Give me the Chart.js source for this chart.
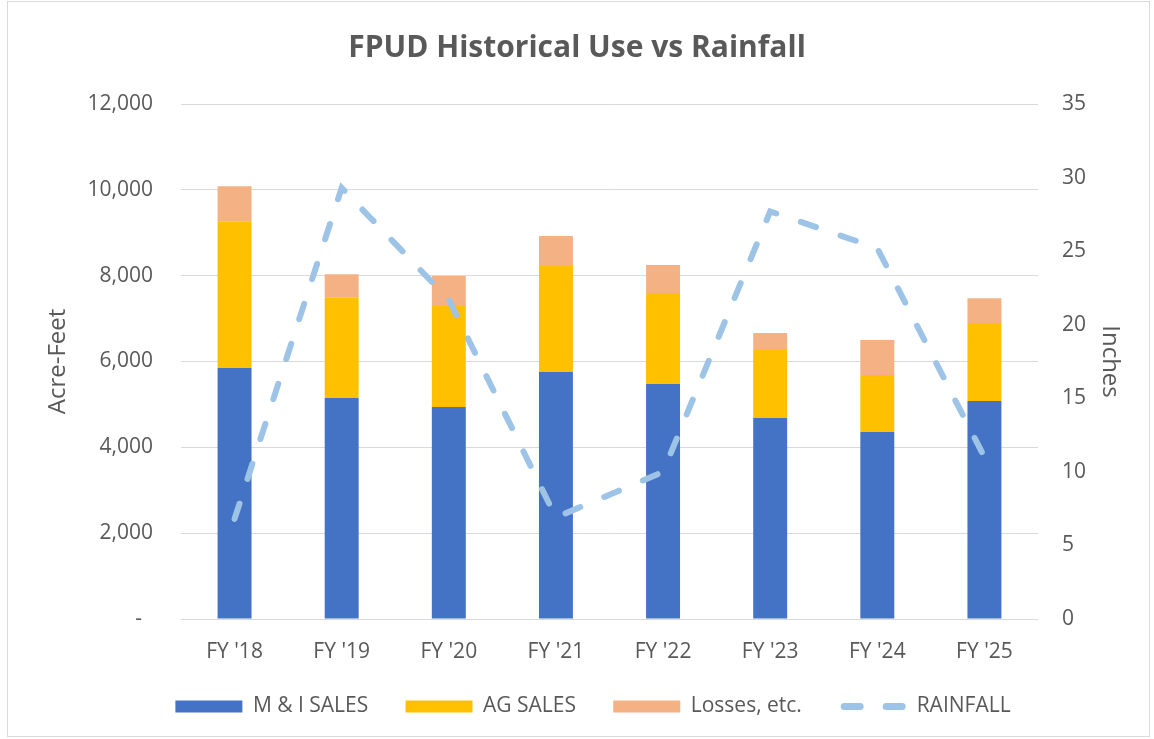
<!DOCTYPE html>
<html>
<head>
<meta charset="utf-8">
<title>FPUD Historical Use vs Rainfall</title>
<script src="https://cdn.jsdelivr.net/npm/chart.js@4"></script>
<style>
    html, body { margin: 0; padding: 0; background: #ffffff; }
    #wrap { width: 1154px; height: 739px; position: relative; }
</style>
</head>
<body>
<div id="wrap"><canvas id="usoChart" width="1154" height="739"></canvas></div>
<script>
// dados
const anos = ["FY '18", "FY '19", "FY '20", "FY '21", "FY '22", "FY '23", "FY '24", "FY '25"];
const vendasMI = [5850, 5150, 4940, 5755, 5475, 4685, 4360, 5080];
const vendasAG = [3420, 2350, 2355, 2470, 2100, 1605, 1325, 1815];
const perdas = [815, 535, 700, 700, 675, 375, 815, 580];
const chuva = [6.8, 29.3, 21.7, 6.9, 10.0, 27.7, 25.2, 11.0];

const corTexto = '#595959';
const corGrade = '#d9d9d9';
const fonte = '"Open Sans", "Liberation Sans", sans-serif';

// moldura cinza em volta do gráfico
const moldura = {
    id: 'moldura',
    beforeDraw(chart) {
        const ctx = chart.ctx;
        ctx.save();
        ctx.fillStyle = '#ffffff';
        ctx.fillRect(0, 0, chart.width, chart.height);
        ctx.strokeStyle = corGrade;
        ctx.lineWidth = 1;
        ctx.strokeRect(7.5, 1.5, 1142, 735);
        ctx.restore();
    }
};

// empurra a legenda um pouco para a direita, como no original
const ajusteLegenda = {
    id: 'ajusteLegenda',
    afterLayout(chart) {
        chart.legend.left += 16;
        chart.legend.right += 16;
    }
};

new Chart(document.getElementById('usoChart').getContext('2d'), {
    type: 'bar',
    data: {
        labels: anos,
        datasets: [
            {
                label: 'M & I SALES',
                data: vendasMI,
                backgroundColor: '#4472c4',
                pointStyle: 'rect',
                yAxisID: 'y',
                order: 1
            },
            {
                label: 'AG SALES',
                data: vendasAG,
                backgroundColor: '#ffc000',
                pointStyle: 'rect',
                yAxisID: 'y',
                order: 1
            },
            {
                label: 'Losses, etc.',
                data: perdas,
                backgroundColor: '#f4b183',
                pointStyle: 'rect',
                yAxisID: 'y',
                order: 1
            },
            {
                type: 'line',
                label: 'RAINFALL',
                data: chuva,
                borderColor: '#9dc3e6',
                backgroundColor: '#9dc3e6',
                borderWidth: 6,
                borderDash: [16, 26],
                borderCapStyle: 'round',
                pointRadius: 0,
                pointStyle: 'line',
                tension: 0,
                fill: false,
                yAxisID: 'y1',
                order: 0
            }
        ]
    },
    options: {
        responsive: false,
        animation: false,
        layout: { padding: { top: 0, left: 0, right: 0, bottom: 12 } },
        datasets: {
            bar: { barPercentage: 0.317, categoryPercentage: 1 }
        },
        plugins: {
            title: {
                display: true,
                text: 'FPUD Historical Use vs Rainfall',
                color: corTexto,
                font: { family: fonte, size: 30, weight: 'bold' },
                padding: { top: 30, bottom: 38 }
            },
            legend: {
                position: 'bottom',
                labels: {
                    color: corTexto,
                    font: { family: fonte, size: 21 },
                    usePointStyle: true,
                    pointStyleWidth: 67,
                    boxHeight: 12,
                    padding: 10,
                    sort: (a, b) => a.datasetIndex - b.datasetIndex,
                    generateLabels(chart) {
                        const itens = Chart.defaults.plugins.legend.labels.generateLabels(chart);
                        itens.forEach(item => {
                            if (item.datasetIndex < 3) {
                                item.text = item.text + '\u00a0\u00a0\u00a0\u00a0\u00a0';
                                item.lineWidth = 0;
                            } else {
                                item.lineWidth = 7;
                                item.lineDash = [16, 26];
                                item.lineDashOffset = -5;
                                item.lineCap = 'round';
                            }
                        });
                        return itens;
                    }
                }
            },
            tooltip: { enabled: false }
        },
        scales: {
            x: {
                stacked: true,
                grid: { display: false },
                border: { display: false },
                ticks: {
                    color: corTexto,
                    font: { family: fonte, size: 21 },
                    padding: 12
                },
                afterFit(scale) { scale.height = 67; }
            },
            y: {
                stacked: true,
                position: 'left',
                min: 0,
                max: 12000,
                grid: { color: corGrade, lineWidth: 1, drawTicks: false },
                border: { display: false },
                ticks: {
                    stepSize: 2000,
                    color: corTexto,
                    font: { family: fonte, size: 21 },
                    padding: 28,
                    callback: v => v === 0 ? '-\u00a0\u00a0' : v.toLocaleString('en-US')
                },
                title: {
                    display: true,
                    text: 'Acre-Feet',
                    color: corTexto,
                    font: { family: fonte, size: 24 },
                    padding: { top: 44, bottom: 0 }
                },
                afterFit(scale) { scale.width = 181; }
            },
            y1: {
                position: 'right',
                min: 0,
                max: 35,
                grid: { display: false, drawTicks: false },
                border: { display: false },
                ticks: {
                    stepSize: 5,
                    color: corTexto,
                    font: { family: fonte, size: 21 },
                    padding: 24
                },
                title: {
                    display: true,
                    text: 'Inches',
                    color: corTexto,
                    font: { family: fonte, size: 24 },
                    padding: { top: 30, bottom: 0 }
                },
                afterFit(scale) { scale.width = 116; }
            }
        }
    },
    plugins: [moldura, ajusteLegenda]
});
</script>
</body>
</html>
